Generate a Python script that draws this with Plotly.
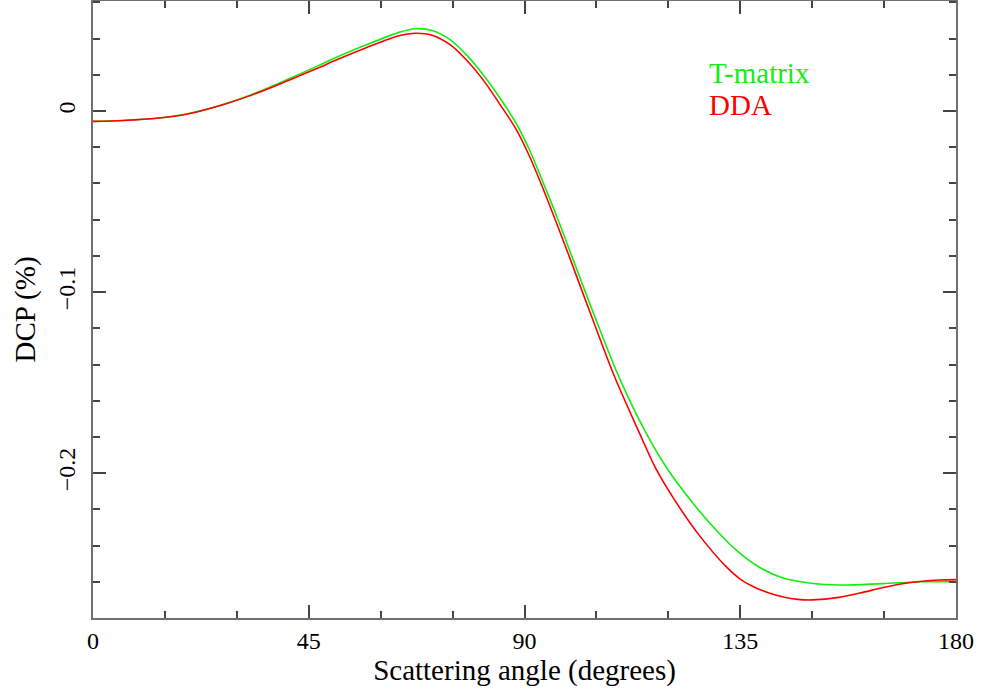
import plotly.graph_objects as go

# T-matrix curve (scattering angle in degrees, DCP in %)
tm_angle = [0, 6.3, 13.3, 20.2, 27.1, 34.1, 41.0, 47.3, 50.1, 57.0, 64.0, 67.1, 70.9, 74.4,
            77.8, 81.3, 84.8, 88.3, 91.0, 94, 97, 99.7, 104.8, 109.8, 115.4, 119.9, 125.1, 130,
            134.6, 139, 143.75, 149.8, 155.6, 164.6, 172.9, 180]
tm_dcp = [-0.0057, -0.0052, -0.0040, -0.0012, 0.0036, 0.0102, 0.0180, 0.0255, 0.0289, 0.0366,
          0.0436, 0.0455, 0.0444, 0.0396, 0.0313, 0.0203, 0.0075, -0.0070, -0.0212, -0.0402,
          -0.060, -0.079, -0.1145, -0.1475, -0.178, -0.1980, -0.2165, -0.2315, -0.2435,
          -0.2520, -0.2578, -0.2608, -0.2618, -0.2610, -0.2600, -0.2599]

# DDA curve
dda_angle = [0, 6.3, 13.3, 20.2, 27.1, 34.1, 41.0, 47.3, 50.1, 57.0, 64.0, 67.1, 70.9, 74.4,
             77.8, 81.3, 84.8, 88.3, 91, 94, 97, 99.5, 104, 108.75, 114.0, 117.4, 121.6, 126.5,
             132, 135, 138, 141, 144, 147, 150, 155.6, 160, 164.6, 168.5, 172.9, 176.5, 180]
dda_dcp = [-0.0057, -0.0052, -0.0040, -0.0013, 0.0035, 0.0098, 0.0172, 0.0242, 0.0275, 0.0350,
           0.0417, 0.0430, 0.0418, 0.0368, 0.0285, 0.0175, 0.0040, -0.0102, -0.0247, -0.0437,
           -0.0640, -0.0815, -0.1135, -0.1465, -0.178, -0.1975, -0.2160, -0.2345, -0.2515,
           -0.2585, -0.2630, -0.2662, -0.2684, -0.2697, -0.2700, -0.2686, -0.2662, -0.2633,
           -0.2612, -0.2597, -0.2590, -0.2588]

green = "#11ee11"
red = "#ff0000"
serif = "Liberation Serif"

fig = go.Figure()
fig.add_trace(go.Scatter(x=tm_angle, y=tm_dcp, mode="lines", name="T-matrix",
                         line=dict(color=green, width=1.6, shape="spline", smoothing=0.9)))
fig.add_trace(go.Scatter(x=dda_angle, y=dda_dcp, mode="lines", name="DDA",
                         line=dict(color=red, width=1.6, shape="spline", smoothing=0.9)))

# legend as plain coloured text
fig.add_annotation(text="T-matrix", xref="paper", yref="paper", x=0.711, y=0.884,
                   showarrow=False, xanchor="left", yanchor="middle",
                   font=dict(family=serif, size=29, color=green))
fig.add_annotation(text="DDA", xref="paper", yref="paper", x=0.711, y=0.832,
                   showarrow=False, xanchor="left", yanchor="middle",
                   font=dict(family=serif, size=29, color=red))

axis_common = dict(
    showline=True, linecolor="#707070", linewidth=2, mirror="allticks",
    ticks="inside", ticklen=13, tickwidth=1.5, tickcolor="#444444",
    showgrid=False, zeroline=False, automargin=False,
    tickfont=dict(family=serif, size=24, color="black"),
)

fig.update_xaxes(
    range=[0, 180], tickmode="linear", tick0=0, dtick=45,
    minor=dict(ticks="inside", ticklen=7, tickwidth=1.5, tickcolor="#444444", dtick=15, showgrid=False),
    title=dict(text="Scattering angle (degrees)", font=dict(family=serif, size=29, color="black"), standoff=6),
    **axis_common,
)
fig.update_yaxes(
    range=[-0.28, 0.0608], tickmode="array", tickvals=[-0.2, -0.1, 0], ticktext=["\u22120.2", "\u22120.1", "0"],
    tickangle=-90, ticklabelstandoff=6,
    minor=dict(ticks="inside", ticklen=7, tickwidth=1.5, tickcolor="#444444", tick0=0, dtick=0.02, showgrid=False),
    title=dict(text="DCP (%)", font=dict(family=serif, size=29, color="black"), standoff=10),
    **axis_common,
)

fig.update_layout(
    width=983, height=697,
    margin=dict(l=93, r=27, t=1, b=79),
    paper_bgcolor="white", plot_bgcolor="white",
    showlegend=False,
    font=dict(family=serif),
)

fig.write_html("out.html", config={"displayModeBar": False},
               post_script="document.body.style.margin='0';document.body.style.padding='0';")
